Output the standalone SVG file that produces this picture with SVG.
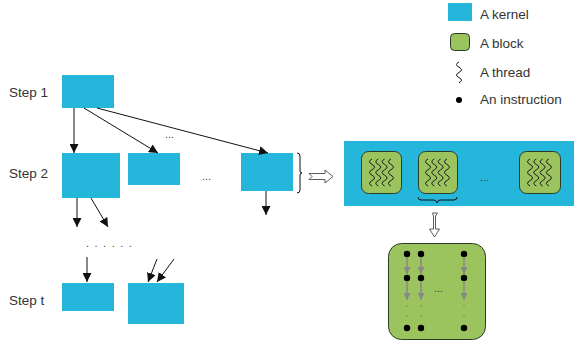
<svg xmlns="http://www.w3.org/2000/svg" width="574" height="343" viewBox="0 0 574 343">
<style>
.k{fill:#25b6dc}
.b{fill:#9bc35e;stroke:#2c3a28;stroke-width:1}
.t{font-family:"Liberation Sans",Arial,sans-serif;font-size:13.5px;fill:#333}
.c{stroke:#111;stroke-width:1;fill:none}
.th{fill:none;stroke:#1a1a1a;stroke-width:1}
.g{stroke:#888;stroke-width:1.5;fill:none}
.dt{font-family:"Liberation Sans",Arial,sans-serif;font-size:11px;fill:#444}
</style>
<defs>
<marker id="ah" viewBox="0 0 10 10" refX="10" refY="5" markerWidth="9" markerHeight="9" markerUnits="userSpaceOnUse" orient="auto">
<path d="M0,0 L10,5 L0,10 z" fill="#111"/>
</marker>
<marker id="gh" viewBox="0 0 10 10" refX="10" refY="5" markerWidth="7" markerHeight="7" markerUnits="userSpaceOnUse" orient="auto">
<path d="M0,0 L10,5 L0,10 z" fill="#888"/>
</marker>
<path id="sq" class="th" d="M1,0 q-5,2.7 0,5.4 q5,2.7 0,5.4 q-5,2.7 0,5.4 q5,2.7 0,5.4 q-5,2.7 0,5.4"/>
<g id="thr">
<use href="#sq" x="0"/><use href="#sq" x="6.3"/><use href="#sq" x="12.6"/><use href="#sq" x="18.9"/>
</g>
</defs>

<g id="legend">
<rect class="k" x="448" y="3" width="24" height="18"/>
<text class="t" x="480" y="19">A kernel</text>
<rect class="b" x="450.5" y="33.5" width="19" height="17" rx="4"/>
<text class="t" x="480" y="48">A block</text>
<path class="th" d="M459,62 q-5,2.6 0,5.2 q5,2.6 0,5.2 q-5,2.6 0,5.2 q5,2.6 0,5.2"/>
<text class="t" x="480" y="77">A thread</text>
<circle cx="459" cy="100" r="3" fill="#000"/>
<text class="t" x="480" y="104">An instruction</text>
</g>

<g id="labels">
<text class="t" x="9" y="97">Step 1</text>
<text class="t" x="9" y="178">Step 2</text>
<text class="t" x="9" y="305">Step t</text>
<text class="dt" x="165" y="138">...</text>
<text class="dt" x="202" y="180">...</text>
<text class="dt" x="86" y="247" letter-spacing="5.5">......</text>
</g>

<g id="k1"><rect class="k" x="62" y="75" width="52" height="33"/></g>
<g id="k2a"><rect class="k" x="62" y="153" width="58" height="45"/></g>
<g id="k2b"><rect class="k" x="128" y="153" width="52" height="32"/></g>
<g id="k2c"><rect class="k" x="241" y="153" width="52" height="38"/></g>
<g id="kta"><rect class="k" x="62" y="283" width="52" height="28"/></g>
<g id="ktb"><rect class="k" x="128" y="283" width="56" height="41"/></g>

<g id="bigkernel">
<rect class="k" x="344" y="141" width="230" height="65"/>
<g id="blk1"><rect class="b" x="361.5" y="151.5" width="40" height="42" rx="7"/><use href="#thr" x="371" y="159"/></g>
<g id="blk2"><rect class="b" x="418.5" y="151.5" width="39" height="42" rx="7"/><use href="#thr" x="427" y="159"/></g>
<g id="blk3"><rect class="b" x="519.5" y="151.5" width="41" height="42" rx="7"/><use href="#thr" x="529" y="159"/></g>
<text class="dt" x="480" y="181" fill="#333">...</text>
</g>

<g id="block-detail">
<rect class="b" x="388.5" y="243.5" width="97" height="96" rx="13"/>
<g fill="#000">
<circle cx="407" cy="254" r="3.2"/><circle cx="421" cy="254" r="3.2"/><circle cx="464" cy="254" r="3.2"/>
<circle cx="407" cy="278" r="3.2"/><circle cx="421" cy="278" r="3.2"/><circle cx="464" cy="278" r="3.2"/>
<circle cx="407" cy="328" r="3.2"/><circle cx="421" cy="328" r="3.2"/><circle cx="464" cy="328" r="3.2"/>
</g>
<g fill="#777">
<circle cx="407" cy="306" r="0.7"/><circle cx="421" cy="306" r="0.7"/><circle cx="464" cy="306" r="0.7"/>
<circle cx="407" cy="316" r="0.7"/><circle cx="421" cy="316" r="0.7"/><circle cx="464" cy="316" r="0.7"/>
</g>
<g class="g">
<path d="M407,258 V274" marker-end="url(#gh)"/><path d="M421,258 V274" marker-end="url(#gh)"/><path d="M464,258 V274" marker-end="url(#gh)"/>
<path d="M407,282 V300" marker-end="url(#gh)"/><path d="M421,282 V300" marker-end="url(#gh)"/><path d="M464,282 V300" marker-end="url(#gh)"/>
</g>
<text class="dt" x="434" y="292" font-size="9">...</text>
</g>

<g id="connectors">
<path class="c" d="M74,108 V153" marker-end="url(#ah)"/>
<path class="c" d="M84,108 L158,153" marker-end="url(#ah)"/>
<path class="c" d="M97,108 L268,153" marker-end="url(#ah)"/>
<path class="c" d="M77,198 V227" marker-end="url(#ah)"/>
<path class="c" d="M91,198 L108,227" marker-end="url(#ah)"/>
<path class="c" d="M266,191 V215" marker-end="url(#ah)"/>
<path class="c" d="M87,257 V282" marker-end="url(#ah)"/>
<path class="c" d="M157,259 L148,282" marker-end="url(#ah)"/>
<path class="c" d="M174,259 L157,282" marker-end="url(#ah)"/>
<path class="c" d="M297,153 q3,0 3,3 v15 q0,2 2,2 q-2,0 -2,2 v15 q0,3 -3,3" stroke="#333"/>
<path class="c" d="M418,197 q0,3 3,3 h13 q2,0 3,3 q1,-3 3,-3 h14 q3,0 3,-3" stroke="#333"/>
<path d="M309,173.5 h16 v-3.5 l8,6.5 l-8,6.5 v-3.5 h-16 l3,-3 z" fill="#fff" stroke="#333" stroke-width="0.8"/>
<path d="M432.5,213 h5 l-2,3 v13 h4 l-5,8 l-5,-8 h4 v-13 z" fill="#fff" stroke="#333" stroke-width="0.8"/>
</g>
</svg>
